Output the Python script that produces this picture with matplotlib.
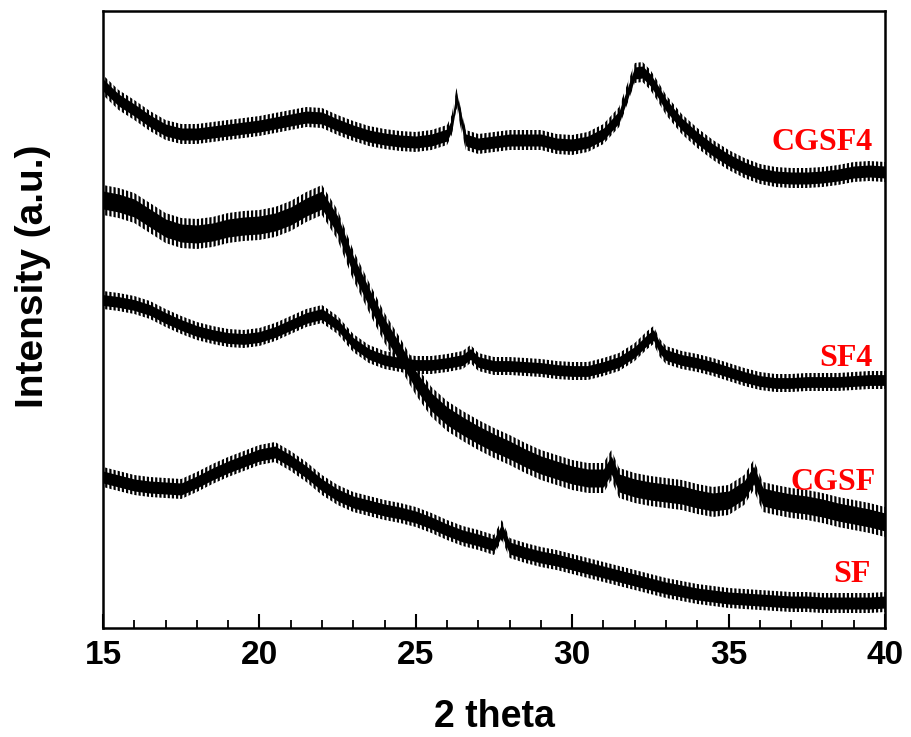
import matplotlib
matplotlib.use("Agg")
import matplotlib.pyplot as plt
from matplotlib.ticker import MultipleLocator
import numpy as np

# XRD patterns (intensity in arbitrary units, curves offset vertically)
two_theta_cgsf4 = [15, 15.5, 16, 16.5, 17, 17.5, 18, 18.5, 19, 19.5, 20, 20.5, 21, 21.5, 22, 22.5,
                   23, 23.5, 24, 24.5, 25, 25.5, 26, 26.15, 26.3, 26.45, 26.6, 27, 27.5, 28, 28.5,
                   29, 29.5, 30, 30.5, 31, 31.5, 31.75, 32, 32.25, 32.5, 32.75, 33, 33.5, 34, 34.5,
                   35, 35.5, 36, 36.5, 37, 37.5, 38, 38.5, 39, 39.5, 40]
cgsf4 = [543, 528, 518, 507, 498, 494, 494, 496, 498, 500, 502, 505, 508, 511, 510, 503,
         497, 492, 489, 487, 486, 488, 493, 503, 530, 508, 488, 484, 486, 488, 488,
         488, 484, 483, 486, 494, 511, 533, 555, 556, 548, 536, 523, 504, 490, 478,
         468, 460, 454, 451, 450, 450, 451, 453, 456, 457, 456]

two_theta_cgsf = [15, 15.5, 16, 16.5, 17, 17.5, 18, 18.5, 19, 19.5, 20, 20.5, 21, 21.5, 22, 22.5,
                  23, 23.5, 24, 24.5, 25, 25.5, 26, 26.5, 27, 27.5, 28, 28.5, 29, 29.5, 30, 30.5,
                  31, 31.25, 31.5, 32, 32.5, 33, 33.5, 34, 34.5, 35, 35.5, 35.8, 36.1, 36.5, 37,
                  37.5, 38, 38.5, 39, 39.5, 40]
cgsf = [428, 425, 420, 410, 400, 395, 394, 396, 400, 402, 403, 406, 412, 421, 428, 403,
        363, 331, 300, 275, 248, 226, 212, 202, 193, 185, 178, 170, 163, 158, 153, 150,
        150, 163, 145, 140, 137, 135, 133, 129, 126, 128, 138, 153, 131, 128, 125,
        123, 120, 116, 113, 110, 106]

two_theta_sf4 = [15, 15.5, 16, 16.5, 17, 17.5, 18, 18.5, 19, 19.5, 20, 20.5, 21, 21.5, 22, 22.5,
                 23, 23.5, 24, 24.5, 25, 25.5, 26, 26.5, 26.75, 27, 27.5, 28, 28.5, 29, 29.5, 30,
                 30.5, 31, 31.5, 32, 32.4, 32.6, 32.8, 33, 33.5, 34, 34.5, 35, 35.5, 36, 36.5,
                 37, 37.5, 38, 38.5, 39, 39.5, 40]
sf4 = [328, 326, 323, 318, 310, 303, 297, 293, 290, 289, 291, 296, 303, 310, 314, 303,
       285, 274, 268, 265, 263, 263, 265, 268, 274, 266, 262, 262, 261, 260, 258, 257,
       257, 261, 266, 276, 288, 293, 280, 273, 268, 265, 261, 256, 251, 247, 245,
       245, 246, 246, 246, 247, 248, 248]

two_theta_sf = [15, 15.5, 16, 16.5, 17, 17.5, 18, 18.5, 19, 19.5, 20, 20.5, 21, 21.5, 22, 22.5,
                23, 23.5, 24, 24.5, 25, 25.5, 26, 26.5, 27, 27.5, 27.75, 28, 28.5, 29, 29.5, 30,
                30.5, 31, 31.5, 32, 32.5, 33, 33.5, 34, 34.5, 35, 35.5, 36, 36.5, 37, 37.5, 38,
                38.5, 39, 39.5, 40]
sf = [151, 147, 143, 141, 140, 139, 146, 154, 161, 167, 173, 176, 167, 156, 143, 133,
      126, 122, 118, 115, 111, 105, 98, 92, 88, 83, 98, 80, 75, 71, 68, 64,
      60, 56, 52, 48, 44, 40, 37, 34, 32, 30, 29, 28, 27, 26, 26, 25,
      25, 25, 25, 26]

# half-width of the counting-noise band of each pattern
noise = {"CGSF4": 10, "CGSF": 15, "SF4": 9, "SF": 10}

# sample names and where they are written
labels = ["CGSF4", "SF4", "CGSF", "SF"]
label_x = [39.6, 39.6, 39.7, 39.55]
label_y = [485, 269, 146, 54]

series = {
    "CGSF4": (two_theta_cgsf4, cgsf4),
    "CGSF": (two_theta_cgsf, cgsf),
    "SF4": (two_theta_sf4, sf4),
    "SF": (two_theta_sf, sf),
}

plt.rcParams["hatch.linewidth"] = 1.6
plt.rcParams["hatch.color"] = "black"

fig = plt.figure(figsize=(9.12, 7.37), dpi=100)
ax = fig.add_axes([103 / 912, 1 - 628 / 737, 782 / 912, 617 / 737])

for name, (tt, inten) in series.items():
    tt = np.asarray(tt, float)
    inten = np.asarray(inten, float)
    hw = noise[name]
    # ragged outer fringe of the noise band
    ax.fill_between(tt, inten - hw, inten + hw, facecolor="none", edgecolor="black",
                    hatch="||||", linewidth=0)
    # dense core of the band
    ax.fill_between(tt, inten - 0.6 * hw, inten + 0.6 * hw, color="black", linewidth=0)

for name, x, y in zip(labels, label_x, label_y):
    ax.text(x, y, name, color="#ff0000", ha="right", va="center",
            fontsize=23, fontweight="bold", family="Liberation Serif")

ax.set_xlim(15, 40)
ax.set_ylim(0, 617)
ax.xaxis.set_major_locator(MultipleLocator(5))
ax.xaxis.set_minor_locator(MultipleLocator(1))
ax.set_yticks([])
ax.tick_params(axis="x", which="major", direction="in", length=10, width=1.5,
               top=False, pad=9, labelsize=24)
ax.tick_params(axis="x", which="minor", direction="in", length=5.5, width=1.3, top=False)
for lbl in ax.get_xticklabels():
    lbl.set_family("Liberation Sans")
    lbl.set_fontweight("bold")
for sp in ax.spines.values():
    sp.set_linewidth(1.8)

ax.set_xlabel("2 theta", fontsize=27, fontweight="bold", family="Liberation Sans", labelpad=20)
fig.text(33 / 912, 1 - 276 / 737, "Intensity (a.u.)", rotation=90, ha="center", va="center",
         fontsize=28, fontweight="bold", family="Liberation Sans")

fig.savefig("out.png", dpi=100)
